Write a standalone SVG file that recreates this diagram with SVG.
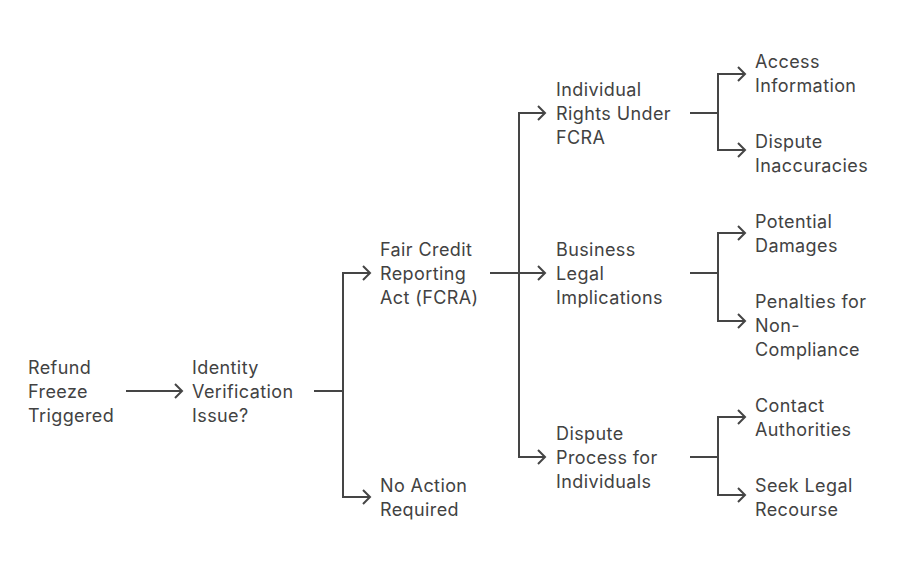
<svg xmlns="http://www.w3.org/2000/svg" width="910" height="570" viewBox="0 0 910 570">
<defs>
<style>
.t{font-family:Inter,"Noto Sans","Liberation Sans",sans-serif;font-size:18px;fill:#424242;letter-spacing:0.4px}
.c{fill:none;stroke:#454545;stroke-width:2}
</style>
<marker id="ah" markerUnits="userSpaceOnUse" markerWidth="12" markerHeight="18" viewBox="-10 -9 12 18" refX="0" refY="0" orient="auto">
<path d="M-7,-7 L0,0 L-7,7" fill="none" stroke="#454545" stroke-width="2"/>
</marker>
</defs>
<rect width="910" height="570" fill="#ffffff"/>
<g id="connectors">
<path class="c" d="M126,391 H182" marker-end="url(#ah)"/>
<path class="c" d="M314,391 H343"/>
<path class="c" d="M343,273 V497"/>
<path class="c" d="M342,273 H370" marker-end="url(#ah)"/>
<path class="c" d="M342,497 H370" marker-end="url(#ah)"/>
<path class="c" d="M490,273 H545" marker-end="url(#ah)"/>
<path class="c" d="M519,113 V457"/>
<path class="c" d="M518,113 H545" marker-end="url(#ah)"/>
<path class="c" d="M518,457 H545" marker-end="url(#ah)"/>
<path class="c" d="M690,113 H718 M718,74 V150"/>
<path class="c" d="M717,74 H745" marker-end="url(#ah)"/>
<path class="c" d="M717,150 H745" marker-end="url(#ah)"/>
<path class="c" d="M690,273 H718 M718,233 V321"/>
<path class="c" d="M717,233 H745" marker-end="url(#ah)"/>
<path class="c" d="M717,321 H745" marker-end="url(#ah)"/>
<path class="c" d="M690,457 H718 M718,417 V495"/>
<path class="c" d="M717,417 H745" marker-end="url(#ah)"/>
<path class="c" d="M717,495 H745" marker-end="url(#ah)"/>
</g>
<g id="refund"><text class="t" x="28" y="374">Refund</text><text class="t" x="28" y="398">Freeze</text><text class="t" x="28" y="422">Triggered</text></g>
<g id="identity"><text class="t" x="192" y="374">Identity</text><text class="t" x="192" y="398">Verification</text><text class="t" x="192" y="422">Issue?</text></g>
<g id="fcra"><text class="t" x="380" y="256">Fair Credit</text><text class="t" x="380" y="280">Reporting</text><text class="t" x="380" y="304">Act (FCRA)</text></g>
<g id="noaction"><text class="t" x="380" y="492">No Action</text><text class="t" x="380" y="516">Required</text></g>
<g id="rights"><text class="t" x="556" y="96">Individual</text><text class="t" x="556" y="120">Rights Under</text><text class="t" x="556" y="144">FCRA</text></g>
<g id="business"><text class="t" x="556" y="256">Business</text><text class="t" x="556" y="280">Legal</text><text class="t" x="556" y="304">Implications</text></g>
<g id="process"><text class="t" x="556" y="440">Dispute</text><text class="t" x="556" y="464">Process for</text><text class="t" x="556" y="488">Individuals</text></g>
<g id="access"><text class="t" x="755" y="68">Access</text><text class="t" x="755" y="92">Information</text></g>
<g id="inacc"><text class="t" x="755" y="148">Dispute</text><text class="t" x="755" y="172">Inaccuracies</text></g>
<g id="damages"><text class="t" x="755" y="228">Potential</text><text class="t" x="755" y="252">Damages</text></g>
<g id="penalties"><text class="t" x="755" y="308">Penalties for</text><text class="t" x="755" y="332">Non-</text><text class="t" x="755" y="356">Compliance</text></g>
<g id="contact"><text class="t" x="755" y="412">Contact</text><text class="t" x="755" y="436">Authorities</text></g>
<g id="seek"><text class="t" x="755" y="492">Seek Legal</text><text class="t" x="755" y="516">Recourse</text></g>
</svg>
